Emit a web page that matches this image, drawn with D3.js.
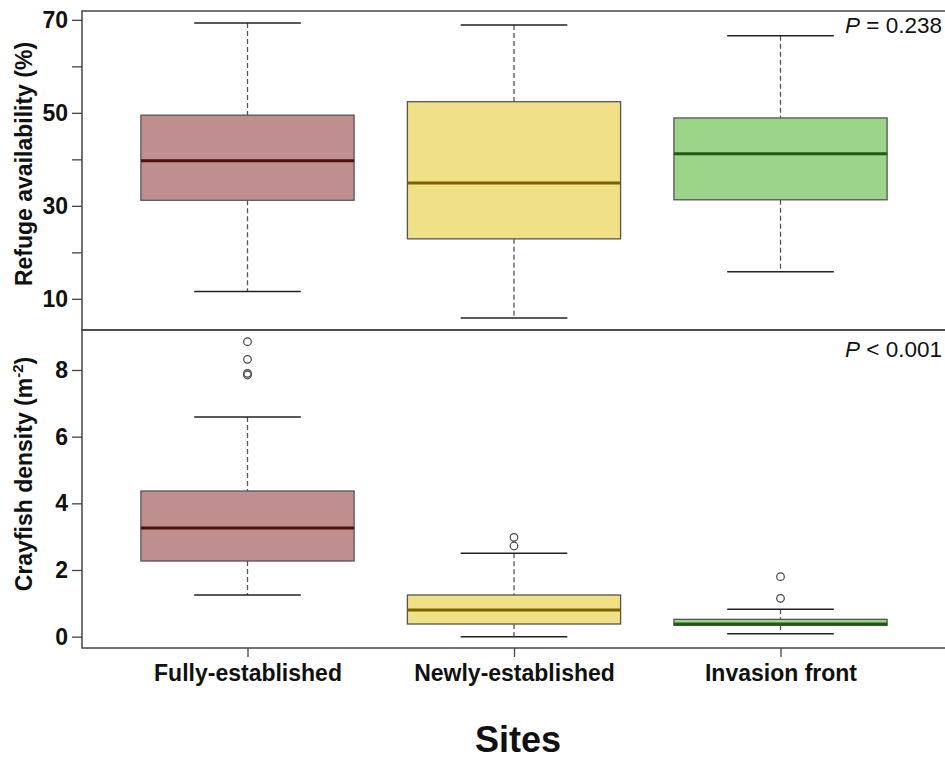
<!DOCTYPE html>
<html><head><meta charset="utf-8">
<script src="https://cdn.jsdelivr.net/npm/d3@7"></script>
<style>body{margin:0;background:#fff;} text{font-family:"Liberation Sans",Arial,sans-serif;}</style>
</head><body>
<svg id="chart" width="945" height="760"></svg>
<script>
// ---- data ----
const categories = ["Fully-established", "Newly-established", "Invasion front"];
// refuge availability (%): [lowerWhisker, q1, median, q3, upperWhisker]
const refugeStats = [
  [11.6, 31.2, 39.7, 49.5, 69.3],
  [5.9, 22.9, 34.9, 52.4, 68.9],
  [15.8, 31.3, 41.2, 48.9, 66.6]
];
const refugeOutliers = [[], [], []];
// crayfish density (m^-2)
const densityStats = [
  [1.25, 2.27, 3.26, 4.37, 6.59],
  [0.0, 0.38, 0.80, 1.25, 2.50],
  [0.09, 0.34, 0.38, 0.52, 0.82]
];
const densityOutliers = [[7.85, 7.9, 8.32, 8.85], [2.72, 2.98], [1.15, 1.80]];
const refugeTicks = [10, 20, 30, 40, 50, 60, 70];
const refugeTickLabels = ["10", "", "30", "", "50", "", "70"];
const densityTicks = [0, 2, 4, 6, 8];
const fills = ["#bf8e8e", "#f0e086", "#9cd48a"];
const medianColors = ["#4d1010", "#7a6204", "#1f5c12"];
const pLabels = [["P", " = 0.238"], ["P", " < 0.001"]];

// ---- layout ----
const svg = d3.select("#chart");
const left = 82, right = 946;
const x = d3.scalePoint().domain(categories).range([left, right]).padding(0.621);
const step = x.step();
const boxW = step * 0.8, capW = boxW / 2;

const panels = [
  {y: d3.scaleLinear().domain([3.3, 71.9]).range([330, 11]), stats: refugeStats, out: refugeOutliers,
   ticks: refugeTicks, labels: refugeTickLabels, p: pLabels[0], pY: 33},
  {y: d3.scaleLinear().domain([-0.34, 9.2]).range([648, 330]), stats: densityStats, out: densityOutliers,
   ticks: densityTicks, labels: densityTicks.map(String), p: pLabels[1], pY: 357}
];

panels.forEach((pn, pi) => {
  const y = pn.y;
  const g = svg.append("g");
  categories.forEach((c, i) => {
    const s = pn.stats[i], cx = x(c);
    g.append("line").attr("x1", cx).attr("x2", cx).attr("y1", y(s[4])).attr("y2", y(s[3]))
      .attr("stroke", "#555").attr("stroke-width", 1.3).attr("stroke-dasharray", "5,3");
    g.append("line").attr("x1", cx).attr("x2", cx).attr("y1", y(s[1])).attr("y2", y(s[0]))
      .attr("stroke", "#555").attr("stroke-width", 1.3).attr("stroke-dasharray", "5,3");
    [s[0], s[4]].forEach(v => g.append("line").attr("x1", cx - capW / 2).attr("x2", cx + capW / 2)
      .attr("y1", y(v)).attr("y2", y(v)).attr("stroke", "#222").attr("stroke-width", 1.5));
    g.append("rect").attr("x", cx - boxW / 2).attr("width", boxW).attr("y", y(s[3]))
      .attr("height", y(s[1]) - y(s[3])).attr("fill", fills[i]).attr("stroke", "#555").attr("stroke-width", 1.3);
    g.append("line").attr("x1", cx - boxW / 2).attr("x2", cx + boxW / 2).attr("y1", y(s[2])).attr("y2", y(s[2]))
      .attr("stroke", medianColors[i]).attr("stroke-width", 3);
    pn.out[i].forEach(v => g.append("circle").attr("cx", cx).attr("cy", y(v)).attr("r", 3.8)
      .attr("fill", "none").attr("stroke", "#444").attr("stroke-width", 1.2));
  });
  const [yb, yt] = y.range();
  g.append("rect").attr("x", left).attr("y", yt).attr("width", right - left).attr("height", yb - yt)
    .attr("fill", "none").attr("stroke", "#444").attr("stroke-width", 1.5);
  const ax = d3.axisLeft(y).tickValues(pn.ticks).tickSize(10).tickPadding(4)
    .tickFormat((d, i) => pn.labels[i]);
  const ag = svg.append("g").attr("transform", `translate(${left},0)`).call(ax);
  ag.select(".domain").remove();
  ag.selectAll(".tick line").attr("stroke", "#444").attr("stroke-width", 1.3);
  ag.selectAll(".tick text").attr("font-size", 23).attr("font-weight", "bold").attr("fill", "#111")
    .attr("font-family", "Liberation Sans, Arial, sans-serif");
  const pt = svg.append("text").attr("x", 942).attr("y", pn.pY).attr("text-anchor", "end")
    .attr("font-size", 22.5).attr("fill", "#111");
  pt.append("tspan").attr("font-style", "italic").text(pn.p[0]);
  pt.append("tspan").text(pn.p[1]);
});

svg.append("text").attr("transform", "translate(32,164) rotate(-90)").attr("text-anchor", "middle")
  .attr("font-size", 23).attr("font-weight", "bold").attr("fill", "#111").text("Refuge availability (%)");
const t2 = svg.append("text").attr("transform", "translate(32,474) rotate(-90)").attr("text-anchor", "middle")
  .attr("font-size", 23).attr("font-weight", "bold").attr("fill", "#111");
t2.append("tspan").text("Crayfish density (m");
t2.append("tspan").attr("font-size", 15).attr("dy", -9).text("-2");
t2.append("tspan").attr("dy", 9).text(")");

const xa = d3.axisBottom(x).tickSize(9).tickPadding(8);
const xg = svg.append("g").attr("transform", "translate(0,648)").call(xa);
xg.select(".domain").remove();
xg.selectAll(".tick line").attr("stroke", "#444").attr("stroke-width", 1.3);
xg.selectAll(".tick text").attr("font-size", 23).attr("font-weight", "bold").attr("fill", "#111")
  .attr("font-family", "Liberation Sans, Arial, sans-serif");

svg.append("text").attr("x", 518).attr("y", 752).attr("text-anchor", "middle")
  .attr("font-size", 36).attr("font-weight", "bold").attr("fill", "#111").text("Sites");
</script>
</body></html>
